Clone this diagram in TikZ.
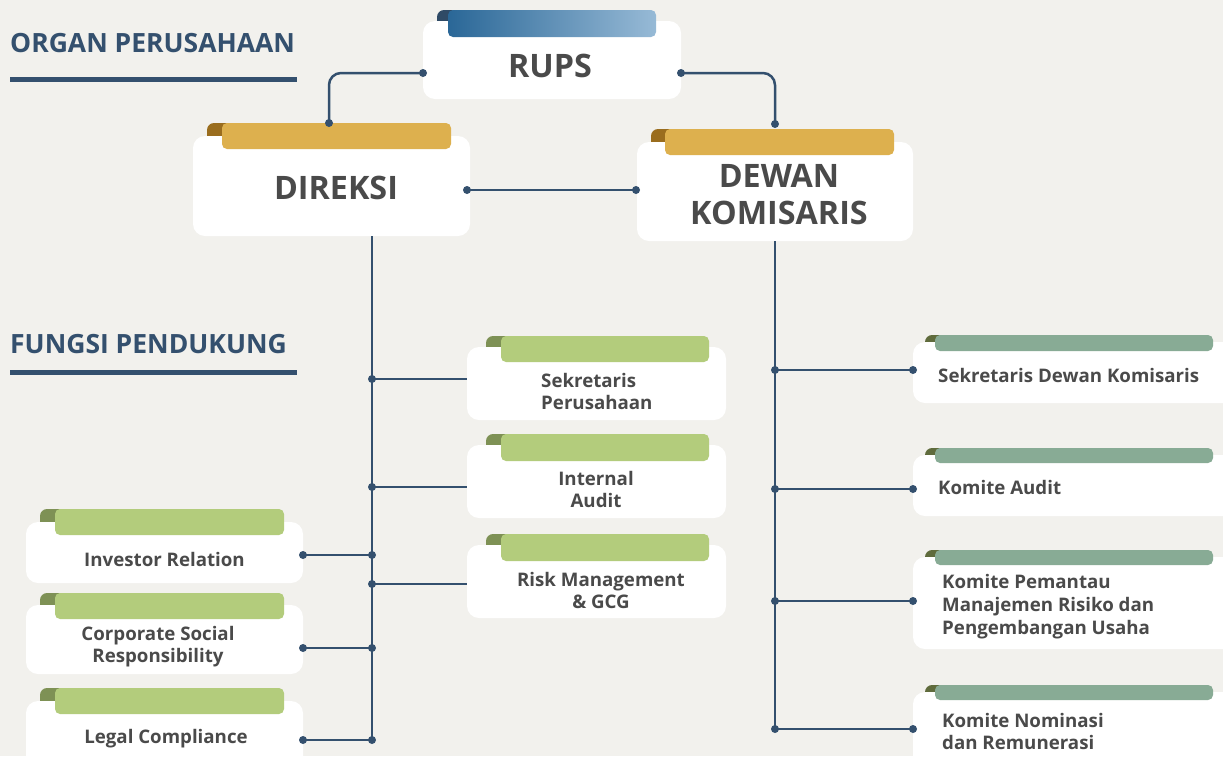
\documentclass[tikz,border=0pt]{standalone}
\usepackage{fontspec}
\setmainfont{Open Sans}
\definecolor{bg}{HTML}{F2F1ED}
\definecolor{navy}{HTML}{34506E}
\definecolor{ink}{HTML}{4A4A4A}
\definecolor{gold}{HTML}{DDB04E}
\definecolor{goldD}{HTML}{9A6D1E}
\definecolor{leaf}{HTML}{B3CC7C}
\definecolor{leafD}{HTML}{7E9155}
\definecolor{sage}{HTML}{88AB95}
\definecolor{sageD}{HTML}{5F6B3C}
\definecolor{rupsA}{HTML}{2A6797}
\definecolor{rupsB}{HTML}{97BAD6}
\definecolor{rupsD}{HTML}{2F4A66}

% card: name, box L, T, R, B, tab L, tab R, tab T, tab B
\newcommand\card[9]{%
  \path[corner, rounded corners=7] ({#6-\cdx},#8) rectangle ({#6+10},{#3+10});
  \node[cardbox, minimum width={(#4-#2)*1pt}, minimum height={(#5-#3)*1pt}]
    (#1) at ({(#2+#4)/2},{(#3+#5)/2}) {};
  \path[tab, rounded corners=5] (#6,#8) rectangle (#7,#9);
}
\newcommand\cdx{15}
\newcommand\fbig{\fontsize{32.3}{37}\selectfont\bfseries}
\newcommand\fhead{\fontsize{26.5}{30}\selectfont\bfseries}
\newcommand\fsmall{\fontsize{18.7}{22}\selectfont\bfseries}

\begin{document}
\begin{tikzpicture}[x=1pt,y=-1pt,
  cardbox/.style={fill=white, rounded corners=12, inner sep=0pt, outer sep=0pt},
  conn/.style={draw=navy, line width=2.5pt},
  dot/.style={fill=navy},
  big/.style={text=ink, font=\fbig, inner sep=0pt, align=center},
  small/.style={text=ink, font=\fsmall, inner sep=0pt},
  head/.style={text=navy, font=\fhead, inner sep=0pt, anchor=west},
  rule/.style={fill=navy}]

\fill[bg] (0,0) rectangle (1223,756);
\useasboundingbox (0,0) rectangle (1223,756);

% section headings
\node[head] (hOrgan) at (10,43) {ORGAN PERUSAHAAN};
\fill[rule] (10,77) rectangle (297,82);
\node[head] (hFungsi) at (10,344) {FUNGSI PENDUKUNG};
\fill[rule] (10,370) rectangle (297,375);

% governing organs
\begin{scope}[corner/.style={fill=rupsD}, tab/.style={left color=rupsA, right color=rupsB}]
  \renewcommand\cdx{11}
  \card{rups}{423}{21}{681}{99}{448}{656}{10}{37}
\end{scope}
\begin{scope}[corner/.style={fill=goldD}, tab/.style={fill=gold}]
  \card{dir}{193}{136}{470}{236}{222}{451}{123}{149}
  \renewcommand\cdx{14}
  \card{dk}{637}{142}{913}{241}{665}{894}{129}{155}
\end{scope}

% supporting units of the board of directors
\begin{scope}[corner/.style={fill=leafD}, tab/.style={fill=leaf}]
  \card{sek}{467}{347}{726}{420}{501}{709}{336}{362}
  \card{ia}{467}{445}{726}{518}{501}{709}{434}{461}
  \card{rm}{467}{545}{726}{618}{501}{709}{534}{561}
  \card{ir}{26}{522}{303}{583}{55}{284}{509}{535}
  \card{csr}{26}{605}{303}{674}{55}{284}{593}{619}
  \card{lc}{26}{701}{303}{790}{55}{284}{688}{714}
\end{scope}

% committees of the board of commissioners
\begin{scope}[corner/.style={fill=sageD}, tab/.style={fill=sage}]
  \renewcommand\cdx{10}
  \card{sdk}{913}{342}{1240}{403}{935}{1213}{335}{351}
  \card{ka}{913}{455}{1240}{516}{935}{1213}{448}{463}
  \card{kp}{913}{557}{1240}{649}{935}{1213}{550}{565}
  \card{kn}{913}{692}{1240}{790}{935}{1213}{685}{700}
\end{scope}

% labels
\node[big] (tRups) at (550,66) {RUPS};
\node[big] (tDir) at (336,188) {DIREKSI};
\node[big] (tDk) at (779,194.5) {DEWAN\\KOMISARIS};

\node[small, anchor=west, align=left] (tSek) at (541,391) {Sekretaris\\Perusahaan};
\node[small, align=center] (tIa) at (596,489) {Internal\\Audit};
\node[small, align=center] (tRm) at (601,590) {Risk Management\\\& GCG};
\node[small] (tIr) at (164.5,559) {Investor Relation};
\node[small, align=center] (tCsr) at (158,646.5) {Corporate Social\\Responsibility};
\node[small] (tLc) at (166,739) {Legal Compliance};

\node[small, anchor=west] (tSdk) at (938,375) {Sekretaris Dewan Komisaris};
\node[small, anchor=west] (tKa) at (938,487) {Komite Audit};
\node[small, anchor=west, align=left, font=\fontsize{18.7}{23}\selectfont\bfseries] (tKp) at (942,607) {Komite Pemantau\\Manajemen Risiko dan\\Pengembangan Usaha};
\node[small, anchor=west, align=left] (tKn) at (942,731) {Komite Nominasi\\dan Remunerasi};

% connection points
\coordinate (rL) at (rups.west |- 0,73);
\coordinate (rR) at (rups.east |- 0,73);
\coordinate (dTop) at (329,123);
\coordinate (kTop) at (775,124);
\coordinate (dR) at (467,190);
\coordinate (kL) at (636,190);
\coordinate (dTrunk) at (372,236);
\coordinate (dEnd) at (372,740);
\coordinate (kTrunk) at (775,241);
\coordinate (kEnd) at (775,729);

\coordinate (j1) at (372,379);
\coordinate (j2) at (372,487);
\coordinate (j3) at (372,584);
\coordinate (j4) at (372,555);
\coordinate (j5) at (372,648);
\coordinate (j6) at (372,740);
\coordinate (k1) at (775,370);
\coordinate (k2) at (775,489);
\coordinate (k3) at (775,601);
\coordinate (k4) at (775,729);

% connectors
\draw[conn, rounded corners=12] (rL) -| (dTop);
\draw[conn, rounded corners=12] (rR) -| (kTop);
\draw[conn] (dR) -- (kL);
\draw[conn] (dTrunk) -- (dEnd);
\draw[conn] (kTrunk) -- (kEnd);

\draw[conn] (j1) -- (sek.west |- j1);
\draw[conn] (j2) -- (ia.west |- j2);
\draw[conn] (j3) -- (rm.west |- j3);
\draw[conn] (j4) -- (ir.east |- j4);
\draw[conn] (j5) -- (csr.east |- j5);
\draw[conn] (j6) -- (lc.east |- j6);
\draw[conn] (k1) -- (sdk.west |- k1);
\draw[conn] (k2) -- (ka.west |- k2);
\draw[conn] (k3) -- (kp.west |- k3);
\draw[conn] (k4) -- (kn.west |- k4);

% dots
\foreach \p in {rL,rR,dTop,kTop,dR,kL,j1,j2,j3,j4,j5,j6,k1,k2,k3,k4}
  \fill[dot] (\p) circle (4);
\fill[dot] (ir.east |- j4) circle (4);
\fill[dot] (csr.east |- j5) circle (4);
\fill[dot] (lc.east |- j6) circle (4);
\fill[dot] (sdk.west |- k1) circle (4);
\fill[dot] (ka.west |- k2) circle (4);
\fill[dot] (kp.west |- k3) circle (4);
\fill[dot] (kn.west |- k4) circle (4);

\end{tikzpicture}
\end{document}
